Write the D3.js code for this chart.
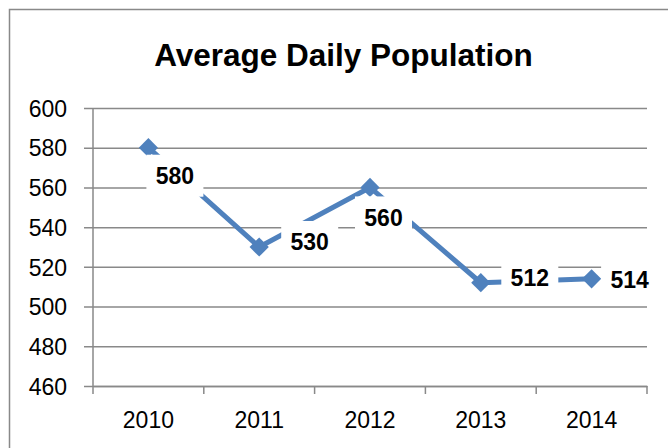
<!DOCTYPE html>
<html><head><meta charset="utf-8">
<script src="https://cdn.jsdelivr.net/npm/d3@7"></script>
<style>
html,body{margin:0;padding:0;background:#fff;overflow:hidden}
text{font-family:"Liberation Sans",Arial,sans-serif}
</style></head>
<body><svg id="chart" width="668" height="448"></svg>
<script>
const title = "Average Daily Population";
const categories = ["2010","2011","2012","2013","2014"];
const values = [580, 530, 560, 512, 514];
const yTicks = [460, 480, 500, 520, 540, 560, 580, 600];
// label placement (layout, px offsets from each point)
const labelDx = [26.5, 50.5, 13.5, 49, 38];
const labelDy = [28, -5, 30, -5, 1];

const svg = d3.select("#chart");
const W = 668, H = 448;
const m = {left: 93, right: 647, top: 108, bottom: 386};
const gray = "#898989", blue = "#4F81BD";

svg.append("rect").attr("width", W).attr("height", H).attr("fill", "#fff");
svg.append("rect").attr("x", 9.5).attr("y", 9.5).attr("width", 720).attr("height", 520)
  .attr("fill", "none").attr("stroke", gray).attr("stroke-width", 1.5);

svg.append("text").attr("x", 343.5).attr("y", 66).attr("text-anchor", "middle")
  .attr("font-size", 31.5).attr("font-weight", "bold").attr("fill", "#000").text(title);

const x = d3.scaleBand().domain(categories).range([m.left, m.right]).paddingInner(0).paddingOuter(0);
const y = d3.scaleLinear().domain([460, 600]).range([m.bottom, m.top]);

// gridlines + y ticks
const gy = svg.append("g").attr("transform", `translate(${m.left},0)`)
  .call(d3.axisLeft(y).tickValues(yTicks).tickSize(-(m.right - m.left)).tickPadding(26).tickFormat(d3.format("d")));
gy.select(".domain").remove();
gy.selectAll(".tick line").attr("stroke", gray).attr("stroke-width", 1.5).attr("x1", -9);
gy.selectAll(".tick text").attr("font-size", 23).attr("fill", "#000").attr("font-family", "Liberation Sans, Arial, sans-serif").attr("dy", "0.36em");

// left axis line
svg.append("line").attr("x1", m.left).attr("x2", m.left).attr("y1", m.top).attr("y2", m.bottom)
  .attr("stroke", gray).attr("stroke-width", 1.5);

// x axis
const gx = svg.append("g").attr("transform", `translate(0,${m.bottom})`)
  .call(d3.axisBottom(x).tickSize(0).tickPadding(0));
gx.select(".domain").attr("stroke", gray).attr("stroke-width", 1.5);
gx.selectAll(".tick text").attr("font-size", 23).attr("fill", "#000").attr("font-family", "Liberation Sans, Arial, sans-serif")
  .attr("y", 42).attr("dy", 0);
const bounds = categories.map(c => x(c)).concat([x(categories[categories.length - 1]) + x.bandwidth()]);
svg.append("g").selectAll("line").data(bounds).join("line")
  .attr("x1", d => d).attr("x2", d => d).attr("y1", m.bottom).attr("y2", m.bottom + 8)
  .attr("stroke", gray).attr("stroke-width", 1.5);

const cx = (d, i) => x(categories[i]) + x.bandwidth() / 2;
const pts = values.map((v, i) => [cx(v, i), y(v)]);

svg.append("path").datum(pts).attr("d", d3.line()).attr("fill", "none")
  .attr("stroke", blue).attr("stroke-width", 5).attr("stroke-linejoin", "round");

svg.append("g").selectAll("path").data(pts).join("path")
  .attr("d", d3.symbol(d3.symbolSquare, 185))
  .attr("transform", d => `translate(${d[0]},${d[1]}) rotate(45)`)
  .attr("fill", blue);

const lg = svg.append("g").selectAll("g").data(values).join("g")
  .attr("transform", (v, i) => `translate(${pts[i][0] + labelDx[i]},${pts[i][1] + labelDy[i]})`);
lg.append("rect").attr("x", -28.5).attr("y", -21).attr("width", 57).attr("height", 42).attr("fill", "#fff");
lg.append("text").attr("text-anchor", "middle").attr("dy", "0.36em")
  .attr("font-size", 23).attr("font-weight", "bold").attr("fill", "#000").text(d => d);
</script></body></html>
